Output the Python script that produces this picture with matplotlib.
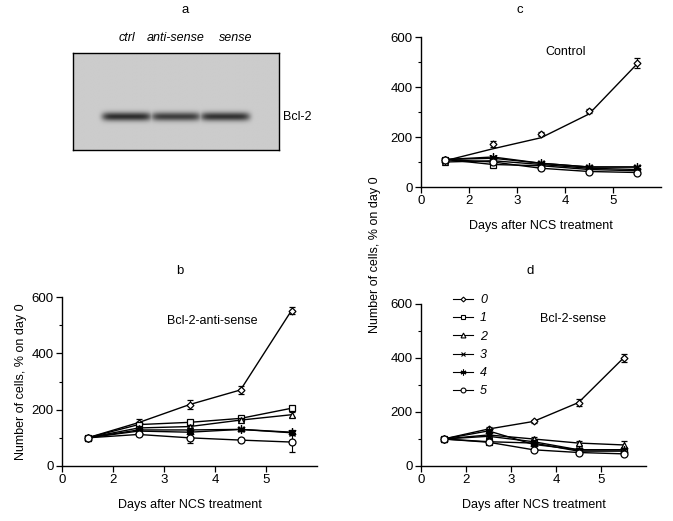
import numpy as np
import matplotlib
matplotlib.use("Agg")
import matplotlib.pyplot as plt
from matplotlib.lines import Line2D

plt.rcParams['font.family'] = ['Liberation Sans', 'DejaVu Sans']
plt.rcParams['font.size'] = 9

# x positions (days) and tick labels of the broken axis
days = [1.5, 2.5, 3.5, 4.5, 5.5]
tick_pos = [1, 2, 3, 4, 5]
tick_labels = ['0', '2', '3', '4', '5']
series_names = ['0', '1', '2', '3', '4', '5']
markers = ['D', 's', '^', 'x', (6, 2, 0), 'o']
msizes = [3.5, 5, 5, 5, 6, 5]

# panel b: Bcl-2-anti-sense
anti_vals = [
    [100, 154, 218, 270, 552],
    [100, 147, 155, 169, 205],
    [100, 135, 140, 163, 182],
    [100, 128, 128, 130, 118],
    [100, 124, 120, 130, 120],
    [100, 112, 100, 92, 85],
]
anti_err = [
    [5, 14, 15, 15, 14],
    [5, 8, 6, 6, 8],
    [5, 6, 6, 6, 8],
    [5, 6, 6, 6, 8],
    [5, 6, 6, 6, 8],
    [5, 6, 18, 6, 35],
]

# panel c: Control
ctrl_vals = [
    [110, 172, 213, 306, 495],
    [110, 90, 85, 70, 65],
    [100, 105, 90, 75, 70],
    [110, 115, 95, 80, 80],
    [110, 120, 95, 80, 80],
    [110, 100, 75, 62, 58],
]
ctrl_err = [
    [6, 12, 8, 8, 20],
    [6, 6, 6, 6, 6],
    [6, 6, 6, 6, 6],
    [6, 6, 6, 6, 6],
    [6, 6, 6, 6, 6],
    [6, 6, 6, 6, 6],
]
ctrl_line0 = [105, 153, 197, 292, 492]

# panel d: Bcl-2-sense
sense_vals = [
    [100, 137, 165, 235, 400],
    [100, 90, 85, 55, 55],
    [100, 115, 100, 85, 78],
    [100, 110, 90, 60, 60],
    [100, 130, 80, 60, 60],
    [100, 88, 60, 50, 45],
]
sense_err = [
    [5, 8, 6, 14, 15],
    [5, 6, 6, 6, 6],
    [5, 6, 6, 6, 15],
    [5, 6, 6, 6, 6],
    [5, 6, 6, 6, 6],
    [5, 6, 6, 6, 6],
]

# panel a: western blot lanes
lane_names = ['ctrl', 'anti-sense', 'sense']
lane_centers = [0.26, 0.50, 0.74]
lane_intensity = [0.95, 0.85, 0.92]

W, H = 673, 521
fig = plt.figure(figsize=(W / 100, H / 100), dpi=100)


def px_axes(x0, x1, ytop, ybot):
    return fig.add_axes([x0 / W, (H - ybot) / H, (x1 - x0) / W, (ybot - ytop) / H])


def style_axes(ax):
    ax.spines['top'].set_visible(False)
    ax.spines['right'].set_visible(False)
    ax.set_xlim(1, 6)
    ax.set_ylim(0, 600)
    ax.set_xticks(tick_pos)
    ax.set_xticklabels(tick_labels)
    ax.set_yticks([0, 200, 400, 600])
    ax.set_yticks([100, 300, 500], minor=True)
    ax.tick_params(direction='out', length=4, width=0.9, labelsize=9.5, pad=2)
    ax.tick_params(which='minor', direction='out', length=2.5, width=0.8)
    for s in ['left', 'bottom']:
        ax.spines[s].set_linewidth(1.0)
    ax.set_xlabel('Days after NCS treatment', fontsize=9, labelpad=9)


def draw_series(ax, vals, errs, line0=None):
    for i in range(len(vals)):
        ls = '-' if (line0 is None or i > 0) else 'none'
        ax.errorbar(days, vals[i], yerr=errs[i], color='black', lw=1.0,
                    marker=markers[i], ms=msizes[i], mfc='white', mec='black',
                    mew=0.9, capsize=2.5, elinewidth=0.8, ls=ls, zorder=3 + i)
    if line0 is not None:
        ax.plot(days, line0, color='black', lw=1.0, zorder=2)


# --- panel a ---
axa = px_axes(73, 279, 53, 150)
nx, ny = 300, 140
xx = np.linspace(0, 1, nx)
yy = np.linspace(0, 1, ny)
img = np.full((ny, nx), 0.80)
band = np.zeros(nx)
for c, inten in zip(lane_centers, lane_intensity):
    band = np.maximum(band, inten * np.exp(-((xx - c) / 0.12) ** 8))
prof = np.exp(-((yy - 0.66) / 0.045) ** 2)
img = img - 0.65 * np.outer(prof, band)
axa.imshow(img, cmap='gray', vmin=0, vmax=1, aspect='auto', extent=[0, 1, 1, 0])
axa.set_xticks([])
axa.set_yticks([])
for s in axa.spines.values():
    s.set_linewidth(1.0)
fig.text(185 / W, 1 - 10 / H, 'a', ha='center', va='center', fontsize=9.5)
for name, xc in zip(lane_names, [127, 176, 236]):
    fig.text(xc / W, 1 - 38 / H, name, ha='center', va='center', fontsize=9, style='italic')
fig.text(297 / W, 1 - 117 / H, 'Bcl-2', ha='center', va='center', fontsize=9)

# --- panel b ---
axb = px_axes(62, 317, 297, 466)
style_axes(axb)
draw_series(axb, anti_vals, anti_err)
axb.set_ylabel('Number of cells, % on day 0', fontsize=9, labelpad=3)
axb.text(0.41, 0.84, 'Bcl-2-anti-sense', transform=axb.transAxes, fontsize=9, ha='left')
fig.text(180 / W, 1 - 271 / H, 'b', ha='center', va='center', fontsize=9.5)

# --- panel c ---
axc = px_axes(421, 661, 37, 187)
style_axes(axc)
draw_series(axc, ctrl_vals, ctrl_err, line0=ctrl_line0)
axc.text(0.52, 0.88, 'Control', transform=axc.transAxes, fontsize=9, ha='left')
fig.text(520 / W, 1 - 10 / H, 'c', ha='center', va='center', fontsize=9.5)

# --- panel d ---
axd = px_axes(421, 646, 304, 466)
style_axes(axd)
draw_series(axd, sense_vals, sense_err)
axd.text(0.53, 0.89, 'Bcl-2-sense', transform=axd.transAxes, fontsize=9, ha='left')
fig.text(530 / W, 1 - 271 / H, 'd', ha='center', va='center', fontsize=9.5)
handles = [Line2D([], [], color='black', lw=0.8, marker=m, ms=s * 0.7, mfc='white',
                  mec='black', mew=0.8) for m, s in zip(markers, msizes)]
axd.legend(handles, series_names, loc='upper left', bbox_to_anchor=(0.09, 1.13),
           frameon=False, handlelength=1.6, handletextpad=0.6,
           labelspacing=0.5, prop={'size': 9, 'style': 'italic'})

fig.text(375 / W, 1 - 255 / H, 'Number of cells, % on day 0', rotation=90,
         ha='center', va='center', fontsize=9)

fig.savefig('out.png', dpi=100)
